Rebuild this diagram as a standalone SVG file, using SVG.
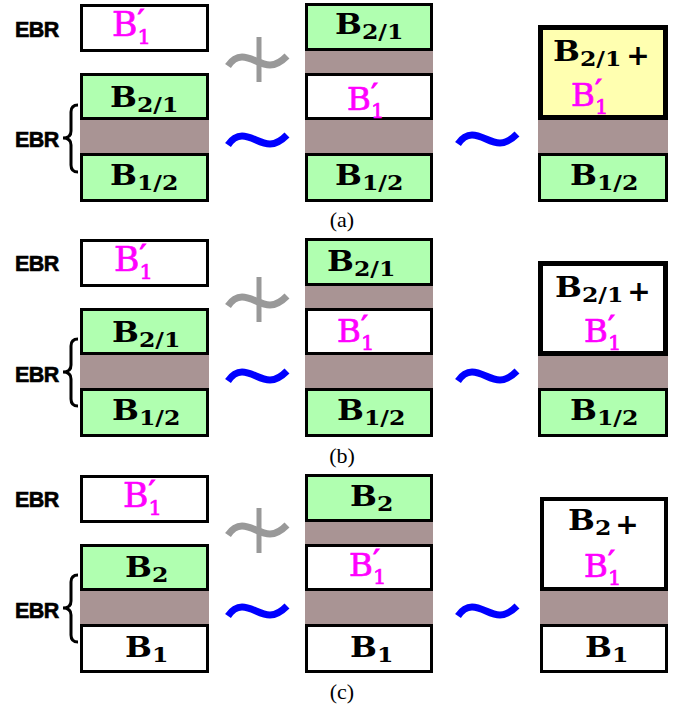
<svg xmlns="http://www.w3.org/2000/svg" width="686" height="709" viewBox="0 0 686 709">
<style>
.box{stroke:#000;stroke-width:3}
.thick{stroke:#000;stroke-width:5}
.mid{stroke:#000;stroke-width:4}
.w{fill:#fff}.g{fill:#b0ffb0}.y{fill:#ffffb0}
.br{fill:#a99494}
.bb{font-family:"DejaVu Serif","Liberation Serif",serif;font-weight:bold;font-size:27px;fill:#000}
.sb{font-size:20px}
.pk{font-family:"DejaVu Serif","Liberation Serif",serif;font-size:31px;fill:#f0f;stroke:#f0f;stroke-width:0.7px}
.pkL{font-size:33px}
.ps{font-size:20px}
.pr{font-size:27px;stroke-width:1.2px}
.plus{font-family:"DejaVu Sans","Liberation Sans",sans-serif;font-weight:bold;font-size:28px;text-anchor:middle;fill:#000}
.ebr{font-family:"Liberation Sans",Arial,sans-serif;font-weight:bold;font-size:21.5px;fill:#000;stroke:#000;stroke-width:0.6px;letter-spacing:-0.6px}
.cap{font-family:"Liberation Serif",serif;font-size:22px;text-anchor:middle;fill:#000}
.tl{fill:none;stroke:#00f;stroke-width:7}
.tg{fill:none;stroke:#999;stroke-width:7}
.bar{stroke:#999;stroke-width:5}
.brace{fill:none;stroke:#000;stroke-width:3}
</style>
<defs>
<path id="tilde" d="M0,5 C4,-1 8,-4 14,-4 C24,-4 32,4 42,4 C49,4 54,0 59,-5"/>
<path id="brace" d="M78,0 Q71,0 71,7 L71,26 Q71,33 63,33 Q71,33 71,40 L71,60 Q71,67 78,67"/>
</defs>

<!-- ===== Panel (a) ===== -->
<g id="a-labels">
<text class="ebr" x="15" y="37">EBR</text>
<text class="ebr" x="15" y="147">EBR</text>
<text class="cap" x="342" y="227">(a)</text>
</g>
<g id="a-left-B1p"><rect class="box w" x="81.5" y="5.5" width="126" height="45"/>
<text class="pk pkL" transform="translate(112,36) scale(1.05,1)">B<tspan class="ps" dy="8">1</tspan><tspan class="pr" dx="-12.5" dy="-14">′</tspan></text></g>
<g id="a-left-gap"><rect class="br" x="80" y="120" width="129" height="33"/></g>
<g id="a-left-B21"><rect class="box g" x="81.5" y="74.5" width="126" height="44"/>
<text class="bb" transform="translate(110,107) scale(1.18,1)">B<tspan class="sb" dy="5">2/1</tspan></text></g>
<g id="a-left-B12"><rect class="box g" x="81.5" y="154.5" width="126" height="46"/>
<text class="bb" transform="translate(110,185) scale(1.18,1)">B<tspan class="sb" dy="5">1/2</tspan></text></g>

<g id="a-mid-gaps"><rect class="br" x="305" y="51" width="128" height="22"/><rect class="br" x="305" y="120" width="128" height="33"/></g>
<g id="a-mid-B21"><rect class="box g" x="306.5" y="4.5" width="125" height="45"/>
<text class="bb" transform="translate(335,34) scale(1.18,1)">B<tspan class="sb" dy="5">2/1</tspan></text></g>
<g id="a-mid-B1p"><rect class="box w" x="306.5" y="74.5" width="125" height="44"/>
<text class="pk" transform="translate(347,110) scale(1.05,1)">B<tspan class="ps" dy="8">1</tspan><tspan class="pr" dx="-12.5" dy="-14">′</tspan></text></g>
<g id="a-mid-B12"><rect class="box g" x="306.5" y="154.5" width="125" height="46"/>
<text class="bb" transform="translate(335,185) scale(1.18,1)">B<tspan class="sb" dy="5">1/2</tspan></text></g>

<g id="a-right-gap"><rect class="br" x="538" y="120" width="130" height="33"/></g>
<g id="a-right-merged"><rect class="thick y" x="540.5" y="27.5" width="125" height="90"/>
<text class="bb" transform="translate(553,61) scale(1.18,1)">B<tspan class="sb" dy="5">2/1</tspan></text>
<text class="plus" x="638" y="65">+</text>
<text class="pk" transform="translate(571,106) scale(1.05,1)">B<tspan class="ps" dy="8">1</tspan><tspan class="pr" dx="-12.5" dy="-14">′</tspan></text></g>
<g id="a-right-B12"><rect class="box g" x="539.5" y="154.5" width="127" height="46"/>
<text class="bb" transform="translate(570,185) scale(1.18,1)">B<tspan class="sb" dy="5">1/2</tspan></text></g>

<!-- ===== Panel (b) ===== -->
<g id="b-labels">
<text class="ebr" x="15" y="271">EBR</text>
<text class="ebr" x="15" y="382">EBR</text>
<text class="cap" x="342" y="463">(b)</text>
</g>
<g id="b-left-B1p"><rect class="box w" x="81.5" y="240.5" width="126" height="45"/>
<text class="pk pkL" transform="translate(114,271) scale(1.05,1)">B<tspan class="ps" dy="8">1</tspan><tspan class="pr" dx="-12.5" dy="-14">′</tspan></text></g>
<g id="b-left-gap"><rect class="br" x="80" y="355" width="129" height="33"/></g>
<g id="b-left-B21"><rect class="box g" x="81.5" y="309.5" width="126" height="44"/>
<text class="bb" transform="translate(112,342) scale(1.18,1)">B<tspan class="sb" dy="5">2/1</tspan></text></g>
<g id="b-left-B12"><rect class="box g" x="81.5" y="389.5" width="126" height="46"/>
<text class="bb" transform="translate(112,420) scale(1.18,1)">B<tspan class="sb" dy="5">1/2</tspan></text></g>

<g id="b-mid-gaps"><rect class="br" x="305" y="286" width="128" height="22"/><rect class="br" x="305" y="355" width="128" height="33"/></g>
<g id="b-mid-B21"><rect class="box g" x="306.5" y="239.5" width="125" height="45"/>
<text class="bb" transform="translate(327,271) scale(1.18,1)">B<tspan class="sb" dy="5">2/1</tspan></text></g>
<g id="b-mid-B1p"><rect class="box w" x="306.5" y="309.5" width="125" height="44"/>
<text class="pk" transform="translate(337,342) scale(1.05,1)">B<tspan class="ps" dy="8">1</tspan><tspan class="pr" dx="-12.5" dy="-14">′</tspan></text></g>
<g id="b-mid-B12"><rect class="box g" x="306.5" y="389.5" width="125" height="46"/>
<text class="bb" transform="translate(337,420) scale(1.18,1)">B<tspan class="sb" dy="5">1/2</tspan></text></g>

<g id="b-right-gap"><rect class="br" x="538" y="355" width="130" height="33"/></g>
<g id="b-right-merged"><rect class="thick w" x="540.5" y="263.5" width="125" height="90"/>
<text class="bb" transform="translate(555,297) scale(1.18,1)">B<tspan class="sb" dy="5">2/1</tspan></text>
<text class="plus" x="639" y="301">+</text>
<text class="pk" transform="translate(584,342) scale(1.05,1)">B<tspan class="ps" dy="8">1</tspan><tspan class="pr" dx="-12.5" dy="-14">′</tspan></text></g>
<g id="b-right-B12"><rect class="box g" x="539.5" y="389.5" width="127" height="46"/>
<text class="bb" transform="translate(570,420) scale(1.18,1)">B<tspan class="sb" dy="5">1/2</tspan></text></g>

<!-- ===== Panel (c) ===== -->
<g id="c-labels">
<text class="ebr" x="15" y="507">EBR</text>
<text class="ebr" x="15" y="618">EBR</text>
<text class="cap" x="342" y="699">(c)</text>
</g>
<g id="c-left-B1p"><rect class="box w" x="81.5" y="476.5" width="126" height="45"/>
<text class="pk pkL" transform="translate(123,507) scale(1.05,1)">B<tspan class="ps" dy="8">1</tspan><tspan class="pr" dx="-12.5" dy="-14">′</tspan></text></g>
<g id="c-left-gap"><rect class="br" x="80" y="591" width="129" height="33"/></g>
<g id="c-left-B2"><rect class="box g" x="81.5" y="545.5" width="126" height="44"/>
<text class="bb" transform="translate(125,577) scale(1.18,1)">B<tspan class="sb" dy="5">2</tspan></text></g>
<g id="c-left-B1"><rect class="box w" x="81.5" y="625.5" width="126" height="46"/>
<text class="bb" transform="translate(125,657) scale(1.18,1)">B<tspan class="sb" dy="5">1</tspan></text></g>

<g id="c-mid-gaps"><rect class="br" x="305" y="522" width="128" height="22"/><rect class="br" x="305" y="591" width="128" height="33"/></g>
<g id="c-mid-B2"><rect class="box g" x="306.5" y="475.5" width="125" height="45"/>
<text class="bb" transform="translate(350,506) scale(1.18,1)">B<tspan class="sb" dy="5">2</tspan></text></g>
<g id="c-mid-B1p"><rect class="box w" x="306.5" y="545.5" width="125" height="44"/>
<text class="pk" transform="translate(349,576) scale(1.05,1)">B<tspan class="ps" dy="8">1</tspan><tspan class="pr" dx="-12.5" dy="-14">′</tspan></text></g>
<g id="c-mid-B1"><rect class="box w" x="306.5" y="625.5" width="125" height="46"/>
<text class="bb" transform="translate(350,657) scale(1.18,1)">B<tspan class="sb" dy="5">1</tspan></text></g>

<g id="c-right-gap"><rect class="br" x="540" y="591" width="128" height="33"/></g>
<g id="c-right-merged"><rect class="mid w" x="542" y="499" width="124" height="90"/>
<text class="bb" transform="translate(568,530) scale(1.18,1)">B<tspan class="sb" dy="5">2</tspan></text>
<text class="plus" x="627" y="534">+</text>
<text class="pk" transform="translate(584,577) scale(1.05,1)">B<tspan class="ps" dy="8">1</tspan><tspan class="pr" dx="-12.5" dy="-14">′</tspan></text></g>
<g id="c-right-B1"><rect class="box w" x="541.5" y="625.5" width="125" height="46"/>
<text class="bb" transform="translate(585,657) scale(1.18,1)">B<tspan class="sb" dy="5">1</tspan></text></g>

<!-- ===== Connectors: relation symbols and braces ===== -->
<g id="connectors">
<use href="#brace" class="brace" transform="translate(0,105)"/>
<use href="#brace" class="brace" transform="translate(0,339)"/>
<use href="#brace" class="brace" transform="translate(0,575)"/>

<use href="#tilde" class="tg" x="228" y="61"/>
<line class="bar" x1="259" y1="37" x2="259" y2="82"/>
<use href="#tilde" class="tl" x="228" y="140"/>
<use href="#tilde" class="tl" x="458" y="139"/>

<use href="#tilde" class="tg" x="228" y="301"/>
<line class="bar" x1="259" y1="277" x2="259" y2="322"/>
<use href="#tilde" class="tl" x="228" y="376"/>
<use href="#tilde" class="tl" x="458" y="376"/>

<use href="#tilde" class="tg" x="228" y="530"/>
<line class="bar" x1="259" y1="508" x2="259" y2="553"/>
<use href="#tilde" class="tl" x="228" y="611"/>
<use href="#tilde" class="tl" x="458" y="611"/>
</g>
</svg>
